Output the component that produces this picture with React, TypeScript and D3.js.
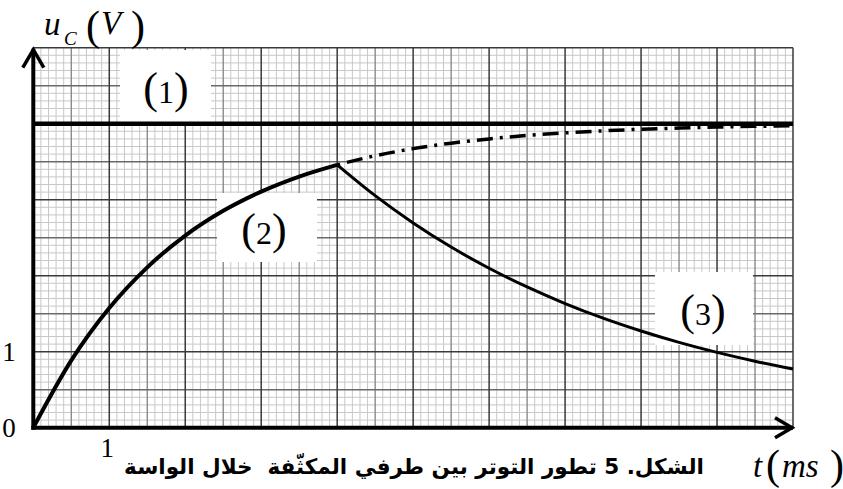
import React from "react";
import * as d3 from "d3";

// Time axis (ms) and voltage axis (V) extents and labelled ticks
const timeDomain = [0, 10];
const voltageDomain = [0, 5];
const timeTickLabels = [1];
const voltageTickLabels = [0, 1];

// Curve (1): generator voltage E
const sourceVoltage = 4;

// Curve (2): charging of the capacitor, t in ms / u in V
const chargeTimes = [0, 0.5, 1, 1.5, 2, 2.5, 3, 3.5, 4];
const chargeValues = [0, 0.885, 1.574, 2.11, 2.528, 2.854, 3.107, 3.305, 3.459];

// Dash-dot continuation of the charging curve after switching
const continuationTimes = [4, 4.5, 5, 5.5, 6, 6.5, 7, 7.5, 8, 8.5, 9, 9.5, 10];
const continuationValues = [3.459, 3.578, 3.672, 3.744, 3.8, 3.845, 3.879, 3.906, 3.927, 3.943, 3.956, 3.965, 3.973];

// Curve (3): discharge after switching
const dischargeTimes = [4, 4.5, 5, 5.5, 6, 6.5, 7, 7.5, 8, 8.5, 9, 9.5, 10];
const dischargeValues = [3.459, 3.053, 2.694, 2.377, 2.098, 1.852, 1.634, 1.442, 1.273, 1.123, 0.991, 0.875, 0.772];

const caption = "الشكل. 5 تطور التوتر بين طرفي المكثّفة  خلال الواسة";

const W = 843;
const H = 489;
const x0 = 33.3;
const x1 = 793;
const yBase = 427.7;
const yTop = 47.7;

const SERIF = "'Liberation Serif', 'Times New Roman', Times, serif";

function CurveLabel({ cx, baseline, digit }: { cx: number; baseline: number; digit: string }) {
  return (
    <text x={cx} y={baseline} textAnchor="middle" fontFamily={SERIF} fill="#000">
      <tspan fontSize={44}>(</tspan>
      <tspan fontSize={32}>{digit}</tspan>
      <tspan fontSize={44}>)</tspan>
    </text>
  );
}

export default function App() {
  const x = d3.scaleLinear().domain(timeDomain).range([x0, x1]);
  const y = d3.scaleLinear().domain(voltageDomain).range([yBase, yTop]);

  // Millimetre-paper grid: 10 fine divisions per unit, heavier every half unit
  const fine = 0.1;
  const vFine: number[] = d3.range(timeDomain[0], timeDomain[1] + 1e-9, fine);
  const hFine: number[] = d3.range(voltageDomain[0], voltageDomain[1] + 1e-9, fine);
  const isUnit = (v: number) => Math.abs(v - Math.round(v)) < 1e-6;
  const isHalf = (v: number) => Math.abs(v * 2 - Math.round(v * 2)) < 1e-6;

  const line = d3
    .line<[number, number]>()
    .x((d) => x(d[0]))
    .y((d) => y(d[1]))
    .curve(d3.curveMonotoneX);

  const charge = chargeTimes.map((t, i) => [t, chargeValues[i]] as [number, number]);
  const continuation = continuationTimes.map((t, i) => [t, continuationValues[i]] as [number, number]);
  const discharge = dischargeTimes.map((t, i) => [t, dischargeValues[i]] as [number, number]);

  return (
    <svg
      width={W}
      height={H}
      viewBox={`0 0 ${W} ${H}`}
      style={{ position: "absolute", left: 0, top: 0, background: "#fff" }}
    >
      <rect width={W} height={H} fill="#fff" />

      {/* fine grid */}
      <g>
        {vFine.filter((v) => !isHalf(v)).map((v, i) => (
          <line key={`vf${i}`} x1={x(v)} x2={x(v)} y1={y(voltageDomain[1])} y2={y(0)} stroke="#c8c8c8" strokeWidth={1} />
        ))}
        {hFine.filter((v) => !isHalf(v)).map((v, i) => (
          <line key={`hf${i}`} x1={x(0)} x2={x(timeDomain[1])} y1={y(v)} y2={y(v)} stroke="#c8c8c8" strokeWidth={1} />
        ))}
        {vFine.filter((v) => isHalf(v) && !isUnit(v)).map((v, i) => (
          <line key={`vh${i}`} x1={x(v)} x2={x(v)} y1={y(voltageDomain[1])} y2={y(0)} stroke="#8a8a8a" strokeWidth={1.4} />
        ))}
        {hFine.filter((v) => isHalf(v) && !isUnit(v)).map((v, i) => (
          <line key={`hh${i}`} x1={x(0)} x2={x(timeDomain[1])} y1={y(v)} y2={y(v)} stroke="#6a6a6a" strokeWidth={1.4} />
        ))}
        {vFine.filter((v) => isUnit(v)).map((v, i) => (
          <line key={`vu${i}`} x1={x(v)} x2={x(v)} y1={y(voltageDomain[1])} y2={y(0)} stroke="#3a3a3a" strokeWidth={1.5} />
        ))}
        {hFine.filter((v) => isUnit(v)).map((v, i) => (
          <line key={`hu${i}`} x1={x(0)} x2={x(timeDomain[1])} y1={y(v)} y2={y(v)} stroke="#3a3a3a" strokeWidth={1.5} />
        ))}
      </g>

      {/* white label patches */}
      <rect x={120} y={50} width={91} height={75} fill="#fff" />
      <rect x={217} y={193} width={100} height={69} fill="#fff" />
      <rect x={655} y={272} width={98} height={73} fill="#fff" />

      {/* (1) source voltage */}
      <line x1={x(0)} x2={x(timeDomain[1])} y1={y(sourceVoltage)} y2={y(sourceVoltage)} stroke="#000" strokeWidth={4.5} />

      {/* dash-dot continuation */}
      <path
        d={line(continuation) || ""}
        fill="none"
        stroke="#000"
        strokeWidth={3.5}
        strokeDasharray="16 7 3 7"
        strokeDashoffset={-10}
      />

      {/* (2) charge */}
      <path d={line(charge) || ""} fill="none" stroke="#000" strokeWidth={4} strokeLinejoin="round" />

      {/* (3) discharge */}
      <path d={line(discharge) || ""} fill="none" stroke="#000" strokeWidth={3} strokeLinejoin="round" />

      {/* axes */}
      <line x1={x(0)} x2={x(0)} y1={y(0) + 2} y2={y(voltageDomain[1]) + 1} stroke="#000" strokeWidth={4} />
      <line x1={x(0) - 2} x2={x(timeDomain[1])} y1={y(0)} y2={y(0)} stroke="#000" strokeWidth={4} />
      <polyline
        points={`${x(0) - 10.5},${y(voltageDomain[1]) + 20} ${x(0)},${y(voltageDomain[1]) + 2} ${x(0) + 10.5},${y(voltageDomain[1]) + 20}`}
        fill="none"
        stroke="#000"
        strokeWidth={3.5}
      />
      <polyline
        points={`${x(timeDomain[1]) - 18},${y(0) - 10} ${x(timeDomain[1]) - 1},${y(0)} ${x(timeDomain[1]) - 18},${y(0) + 10}`}
        fill="none"
        stroke="#000"
        strokeWidth={3.5}
      />

      {/* tick labels */}
      {voltageTickLabels.map((v) => (
        <text key={`yl${v}`} x={9} y={y(v) + 9} textAnchor="middle" fontFamily={SERIF} fontSize={27} fill="#000">
          {v}
        </text>
      ))}
      {timeTickLabels.map((t) => (
        <text key={`xl${t}`} x={x(t) - 2} y={457} textAnchor="middle" fontFamily={SERIF} fontSize={27} fill="#000">
          {t}
        </text>
      ))}

      {/* curve labels */}
      <CurveLabel cx={166} baseline={103} digit="1" />
      <CurveLabel cx={264} baseline={244} digit="2" />
      <CurveLabel cx={703} baseline={325} digit="3" />

      {/* axis titles */}
      <text fontFamily={SERIF} fill="#000">
        <tspan x={44} y={35} fontSize={33} fontStyle="italic">u</tspan>
        <tspan x={64} y={45} fontSize={19} fontStyle="italic">C</tspan>
        <tspan x={86} y={40} fontSize={42}>(</tspan>
        <tspan x={101} y={34} fontSize={33} fontStyle="italic">V</tspan>
        <tspan x={131} y={40} fontSize={42}>)</tspan>
      </text>
      <text fontFamily={SERIF} fill="#000">
        <tspan x={753} y={477} fontSize={33} fontStyle="italic">t</tspan>
        <tspan x={766} y={479} fontSize={42}>(</tspan>
        <tspan x={782} y={477} fontSize={33} fontStyle="italic">ms</tspan>
        <tspan x={830} y={479} fontSize={42}>)</tspan>
      </text>

      {/* caption */}
      <text
        x={414}
        y={474}
        textAnchor="middle"
        fontFamily="'DejaVu Sans', sans-serif"
        fontWeight="bold"
        fontSize={21.5}
        fill="#000"
        style={{ whiteSpace: "pre" }}
      >
        {caption}
      </text>
    </svg>
  );
}
